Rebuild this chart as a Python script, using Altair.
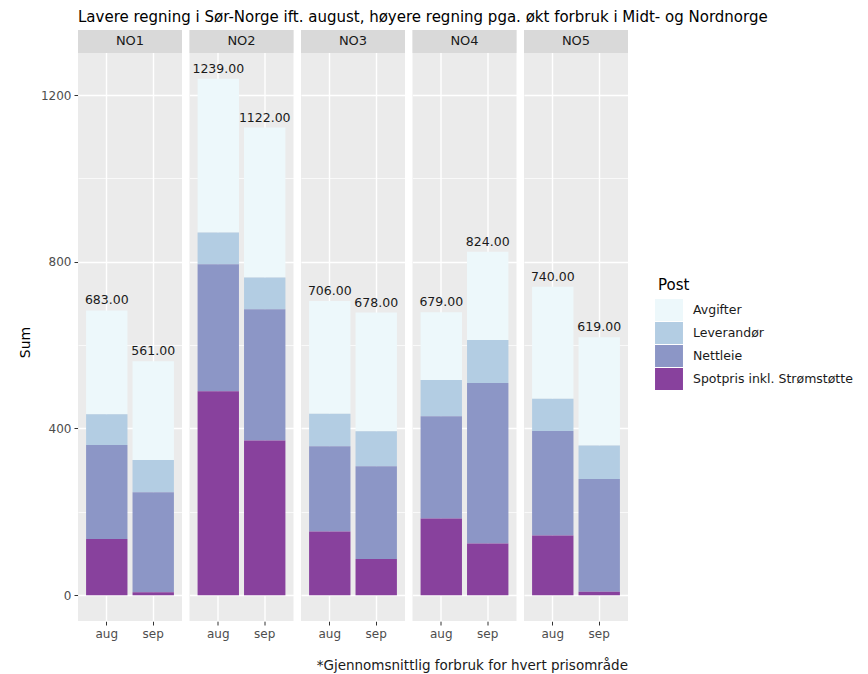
import altair as alt
import pandas as pd

regions = ["NO1", "NO2", "NO3", "NO4", "NO5"]
months = ["aug", "sep"]
posts = ["Avgifter", "Leverandør", "Nettleie", "Spotpris inkl. Strømstøtte"]
colors = ["#EDF8FB", "#B3CDE3", "#8C96C6", "#88419D"]

# values per region: [aug, sep]
spot = {"NO1": [135, 7], "NO2": [489, 371], "NO3": [153, 87], "NO4": [184, 124], "NO5": [143, 8]}
nettleie = {"NO1": [225, 240], "NO2": [305, 315], "NO3": [204, 222], "NO4": [245, 385], "NO5": [251, 271]}
leverandor = {"NO1": [74, 77], "NO2": [76, 76], "NO3": [78, 84], "NO4": [87, 103], "NO5": [77, 80]}
avgifter = {"NO1": [249, 237], "NO2": [369, 360], "NO3": [271, 285], "NO4": [163, 212], "NO5": [269, 260]}

title_text = "Lavere regning i Sør-Norge ift. august, høyere regning pga. økt forbruk i Midt- og Nordnorge"
caption_text = "*Gjennomsnittlig forbruk for hvert prisområde"

series = {
    "Avgifter": avgifter,
    "Leverandør": leverandor,
    "Nettleie": nettleie,
    "Spotpris inkl. Strømstøtte": spot,
}
stack_order = {"Spotpris inkl. Strømstøtte": 0, "Nettleie": 1, "Leverandør": 2, "Avgifter": 3}

rows = []
for r in regions:
    for i, m in enumerate(months):
        for p in posts:
            rows.append({"region": r, "month": m, "Post": p, "value": series[p][r][i], "ord": stack_order[p]})
df = pd.DataFrame(rows)

FONT = "DejaVu Sans"
W = 104
H = 591
YDOM = [-62, 1356]

xenc = alt.X(
    "month:N",
    title=None,
    sort=months,
    scale=alt.Scale(paddingInner=0.109, paddingOuter=0.174),
    axis=alt.Axis(
        labelAngle=0, domain=False, grid=True, gridColor="white", gridWidth=1.4,
        bandPosition=0.5, tickColor="#333333", tickSize=4, labelColor="#4D4D4D",
        labelFontSize=12, labelFont=FONT, labelPadding=3,
    ),
)

bars = alt.Chart().mark_bar(strokeWidth=0).encode(
    x=xenc,
    y=alt.Y(
        "value:Q",
        stack="zero",
        title="Sum",
        scale=alt.Scale(domain=YDOM, nice=False, zero=False),
        axis=alt.Axis(
            values=[0, 200, 400, 600, 800, 1000, 1200],
            format="d",
            labelExpr="datum.value % 400 == 0 ? datum.label : ''",
            domain=False,
            gridColor="white",
            gridWidth={"condition": {"test": "datum.value % 400 == 0", "value": 1.4}, "value": 0.7},
            tickOpacity={"condition": {"test": "datum.value % 400 == 0", "value": 1}, "value": 0},
            tickColor="#333333", tickSize=4, labelColor="#4D4D4D", labelFontSize=12,
            labelFont=FONT, labelPadding=3, titleFont=FONT, titleFontSize=14,
            titleFontWeight="normal", titleColor="black", titlePadding=8, titleY=312,
        ),
    ),
    color=alt.Color(
        "Post:N",
        scale=alt.Scale(domain=posts, range=colors),
        legend=alt.Legend(
            title="Post", orient="none", legendX=580, legendY=248,
            symbolType="M-1.27,-1H1.27V1H-1.27Z", symbolSize=484, symbolStrokeWidth=0,
            symbolOpacity=1, rowPadding=1, labelFont=FONT, labelFontSize=12.5,
            labelColor="#1A1A1A", labelOffset=13, labelLimit=0, titleFont=FONT, titleFontSize=15,
            titleFontWeight="normal", titleColor="black", titlePadding=6,
        ),
    ),
    order=alt.Order("ord:Q", sort="ascending"),
)

labels = alt.Chart().transform_aggregate(
    total="sum(value)", groupby=["region", "month"]
).transform_calculate(
    lab="format(datum.total, '.2f')"
).mark_text(baseline="bottom", dy=-3, fontSize=12.5, font=FONT, color="#1A1A1A").encode(
    x=alt.X("month:N", sort=months, title=None),
    y=alt.Y("total:Q", title="Sum"),
    text="lab:N",
)

strip = alt.Chart().transform_filter(
    "datum.Post == 'Avgifter' && datum.month == 'aug'"
).mark_rect(color="#D9D9D9").encode(
    x=alt.value(0), x2=alt.value(W),
    y=alt.Y(datum=1301, title="Sum"), y2=alt.Y2(datum=1356),
)

strip_text = alt.Chart().transform_filter(
    "datum.Post == 'Avgifter' && datum.month == 'aug'"
).mark_text(fontSize=13, font=FONT, color="#1A1A1A", baseline="middle").encode(
    x=alt.value(W / 2),
    y=alt.Y(datum=1328.5, title="Sum"),
    text="region:N",
)

chart = alt.layer(bars, labels, strip, strip_text, data=df).properties(
    width=W, height=H
).facet(
    column=alt.Column(
        "region:N",
        sort=regions,
        header=alt.Header(
            labels=False, title=caption_text, titleOrient="bottom", titleAnchor="end",
            titleFont=FONT, titleFontSize=13.5, titleFontWeight="normal", titleColor="#1A1A1A",
            titlePadding=10,
        ),
    ),
    spacing=7.5,
).properties(
    padding={"left": 10, "top": 2, "right": 5, "bottom": 5},
    title=alt.TitleParams(title_text, anchor="start", frame="group", font=FONT, fontSize=15,
                          fontWeight="normal", color="black", offset=5),
).configure(
    background="white"
).configure_view(
    fill="#EBEBEB", strokeWidth=0
)

chart.save("out.html", embed_options={"renderer": "svg", "actions": False})
